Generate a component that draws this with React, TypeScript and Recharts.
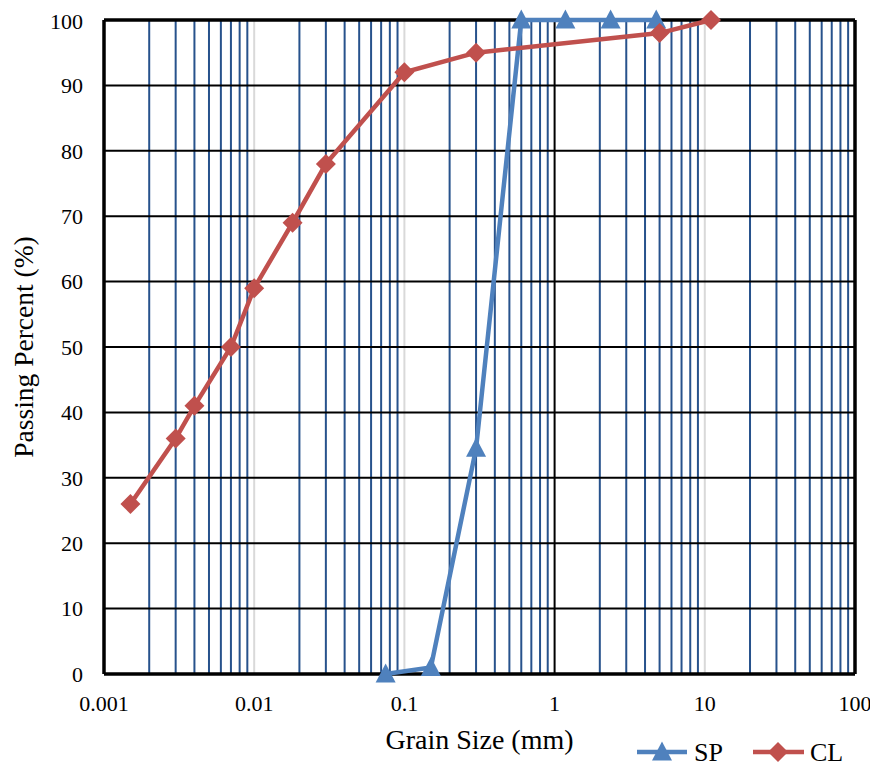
import React from 'react';
import { LineChart, Line, XAxis, YAxis, ReferenceLine, Legend } from 'recharts';

// Grain size (mm) and passing percent (%)
const spSize = [0.075, 0.15, 0.3, 0.6, 1.18, 2.36, 4.75];
const spPassing = [0, 1, 34.5, 100, 100, 100, 100];
const clSize = [0.0015, 0.003, 0.004, 0.007, 0.01, 0.018, 0.03, 0.1, 0.3, 5, 11];
const clPassing = [26, 36, 41, 50, 59, 69, 78, 92, 95, 98, 100];

const xTicks = [0.001, 0.01, 0.1, 1, 10, 100];
const yTicks = [0, 10, 20, 30, 40, 50, 60, 70, 80, 90, 100];
const decadeStarts = [0.001, 0.01, 0.1, 1, 10];
const minorMultipliers = [2, 3, 4, 5, 6, 7, 8, 9];
const greyMajors = [0.01, 0.1, 10];
const blackMajors = [1];

const spData = spSize.map((s, i) => ({ size: s, SP: spPassing[i] }));
const clData = clSize.map((s, i) => ({ size: s, CL: clPassing[i] }));
const minorLines = decadeStarts.flatMap((d) => minorMultipliers.map((m) => +(m * d).toPrecision(3)));

const BLUE = '#4F81BD';
const RED = '#C0504D';
const GRID_BLUE = '#27528C';
const FONT = "'Liberation Serif', 'Times New Roman', serif";

const Triangle = (props: any) => {
  const { cx, cy, fill } = props;
  if (cx == null || cy == null) return null;
  return <path d={`M${cx},${cy - 10.5}L${cx + 10},${cy + 8.5}L${cx - 10},${cy + 8.5}Z`} fill={fill} />;
};

const Diamond = (props: any) => {
  const { cx, cy, fill } = props;
  if (cx == null || cy == null) return null;
  return <path d={`M${cx},${cy - 10}L${cx + 10},${cy}L${cx},${cy + 10}L${cx - 10},${cy}Z`} fill={fill} />;
};

const LegendContent = () => (
  <svg width={240} height={40} style={{ overflow: 'visible', display: 'block' }}>
    <line x1={9} y1={18} x2={59} y2={18} stroke={BLUE} strokeWidth={4.5} />
    <Triangle cx={34} cy={18} fill={BLUE} />
    <text x={66} y={27} style={{ fontFamily: FONT }} fontSize={26} fill="#000">SP</text>
    <line x1={125} y1={18} x2={176} y2={18} stroke={RED} strokeWidth={4.5} />
    <Diamond cx={150} cy={18} fill={RED} />
    <text x={182} y={27} style={{ fontFamily: FONT }} fontSize={26} fill="#000">CL</text>
  </svg>
);

const XTitle = (props: any) => {
  const { viewBox } = props;
  const cx = viewBox.x + viewBox.width / 2;
  return (
    <text x={cx} y={741} textAnchor="middle" style={{ fontFamily: FONT }} fontSize={28} fill="#000">
      Grain Size (mm)
    </text>
  );
};

const YTitle = (props: any) => {
  const { viewBox } = props;
  const cy = viewBox.y + viewBox.height / 2;
  return (
    <text x={25} y={cy} transform={`rotate(-90, 25, ${cy})`} textAnchor="middle" style={{ fontFamily: FONT }} fontSize={27.5} fill="#000">
      Passing Percent (%)
    </text>
  );
};

const tickStyle = { fontSize: 22, fill: '#000', fontFamily: FONT, style: { fontFamily: FONT } };

export default function App() {
  return (
    <div style={{ position: 'relative', width: 870, height: 763, fontFamily: FONT }}>
      <LineChart width={870} height={763} margin={{ top: 12, right: 23, left: 0, bottom: 0 }} style={{ fontFamily: FONT }}>
        <XAxis
          dataKey="size"
          type="number"
          scale="log"
          domain={[0.001, 100]}
          ticks={xTicks}
          tickFormatter={(v: number) => String(v)}
          axisLine={false}
          tickLine={false}
          tickSize={6}
          tickMargin={15}
          height={97}
          tick={tickStyle}
          label={<XTitle />}
          allowDuplicatedCategory={false}
        />
        <YAxis
          type="number"
          domain={[0, 100]}
          ticks={yTicks}
          axisLine={false}
          tickLine={false}
          tickSize={6}
          tickMargin={15}
          width={96}
          tick={tickStyle}
          label={<YTitle />}
        />
        {minorLines.map((v) => (
          <ReferenceLine key={`m${v}`} x={v} stroke={GRID_BLUE} strokeWidth={2} ifOverflow="visible" />
        ))}
        {greyMajors.map((v) => (
          <ReferenceLine key={`g${v}`} x={v} stroke="#D9D9D9" strokeWidth={2} ifOverflow="visible" />
        ))}
        {blackMajors.map((v) => (
          <ReferenceLine key={`b${v}`} x={v} stroke="#000" strokeWidth={2} ifOverflow="visible" />
        ))}
        {yTicks.slice(1, -1).map((v) => (
          <ReferenceLine key={`h${v}`} y={v} stroke="#000" strokeWidth={2} ifOverflow="visible" />
        ))}
        <ReferenceLine x={0.001} stroke="#000" strokeWidth={3.5} ifOverflow="visible" />
        <ReferenceLine x={100} stroke="#000" strokeWidth={3.5} ifOverflow="visible" />
        <ReferenceLine y={0} stroke="#000" strokeWidth={3.5} ifOverflow="visible" />
        <ReferenceLine y={100} stroke="#000" strokeWidth={3.5} ifOverflow="visible" />
        <Line
          data={spData}
          dataKey="SP"
          name="SP"
          stroke={BLUE}
          strokeWidth={4.5}
          fill={BLUE}
          dot={(p: any) => <Triangle key={`sp${p.index}`} {...p} fill={BLUE} />}
          activeDot={false}
          isAnimationActive={false}
        />
        <Line
          data={clData}
          dataKey="CL"
          name="CL"
          stroke={RED}
          strokeWidth={4.5}
          fill={RED}
          dot={(p: any) => <Diamond key={`cl${p.index}`} {...p} fill={RED} />}
          activeDot={false}
          isAnimationActive={false}
        />
        <Legend
          verticalAlign="bottom"
          wrapperStyle={{ position: 'absolute', left: 620, top: 726, bottom: 'auto', width: 240, height: 0, overflow: 'visible' }}
          content={() => <LegendContent />}
        />
      </LineChart>
    </div>
  );
}
